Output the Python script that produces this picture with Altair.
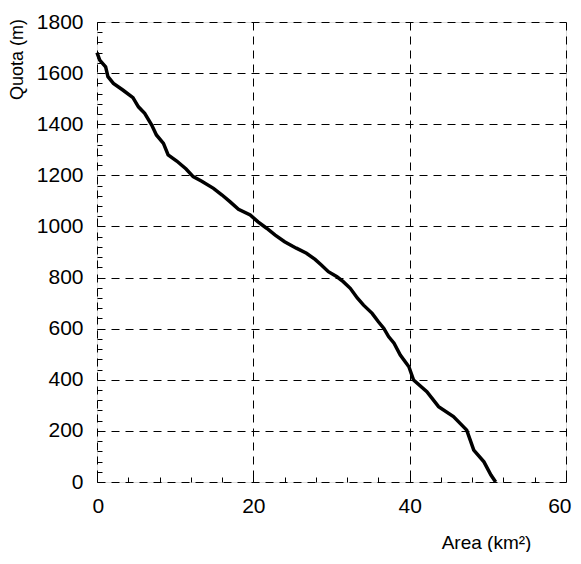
import altair as alt
import pandas as pd

area_km2 = [0.0, 0.35, 1.1, 1.4, 2.1, 3.3, 4.6, 5.3, 6.1, 7.0, 7.6, 8.5, 9.1, 10.2,
            11.4, 12.3, 13.4, 14.9, 16.0, 17.0, 18.1, 19.6, 20.6, 21.7, 22.8, 24.0,
            25.5, 26.8, 27.9, 28.7, 29.6, 30.7, 31.5, 32.4, 33.3, 34.1, 35.2, 36.0,
            36.7, 37.3, 38.0, 38.8, 39.9, 40.5, 42.2, 43.7, 45.6, 47.3, 48.2, 49.5,
            50.4, 51.0]
quota_m = [1680, 1651, 1625, 1586, 1560, 1534, 1504, 1468, 1443, 1397, 1358, 1325,
           1280, 1256, 1225, 1195, 1177, 1149, 1123, 1097, 1067, 1045, 1018, 993, 966,
           940, 915, 895, 871, 849, 823, 803, 784, 758, 720, 692, 660, 627, 601, 569,
           543, 497, 451, 399, 353, 295, 256, 203, 125, 79, 27, 0]

x_major = [0, 20, 40, 60]
y_major = [0, 200, 400, 600, 800, 1000, 1200, 1400, 1600, 1800]
x_minor = [0, 4, 8, 12, 16, 20, 24, 28, 32, 36, 40, 44, 48, 52, 56, 60]
y_minor = [0, 40, 80, 120, 160, 200, 240, 280, 320, 360, 400, 440, 480, 520, 560,
           600, 640, 680, 720, 760, 800, 840, 880, 920, 960, 1000, 1040, 1080, 1120,
           1160, 1200, 1240, 1280, 1320, 1360, 1400, 1440, 1480, 1520, 1560, 1600,
           1640, 1680, 1720, 1760, 1800]

df = pd.DataFrame({"area": area_km2, "quota": quota_m})

W, H = 469, 460
FONT = "Liberation Sans"

xscale = alt.Scale(domain=[0, 60], nice=False, zero=False)
yscale = alt.Scale(domain=[0, 1800], nice=False, zero=False)

main = alt.Chart(df).mark_line(color="black", strokeWidth=3.5).encode(
    x=alt.X("area:Q", scale=xscale,
            axis=alt.Axis(values=x_major, title="Area (km²)", ticks=False, domain=False,
                          grid=True, gridDash=[8, 6], gridColor="black", gridWidth=1,
                          gridOpacity=1, labelFontSize=21, labelPadding=13,
                          labelColor="black", labelFont=FONT, labelFlush=True,
                          labelFlushOffset=5,
                          titleFont=FONT, titleFontSize=19, titleFontWeight="normal",
                          titleColor="black", titleX=389, titleY=66,
                          titleAlign="center", titleBaseline="alphabetic",
                          format="d")),
    y=alt.Y("quota:Q", scale=yscale,
            axis=alt.Axis(values=y_major, title="Quota (m)", ticks=False, domain=False,
                          grid=True, gridDash=[8, 6], gridColor="black", gridWidth=1,
                          gridOpacity=1, labelFontSize=21, labelPadding=14,
                          labelColor="black", labelFont=FONT, labelFlush=False,
                          titleFont=FONT, titleFontSize=18, titleFontWeight="normal",
                          titleColor="black", titleAngle=-90, titleX=-75, titleY=37,
                          titleAlign="center", titleBaseline="alphabetic",
                          format="d")),
    order="area:Q",
)

ticks = alt.Chart(df).mark_point(opacity=0).encode(
    x=alt.X("area:Q", scale=xscale,
            axis=alt.Axis(orient="top", offset=-H, values=x_minor, labels=False,
                          title=None, domain=False, grid=False, ticks=True,
                          tickSize=5, tickColor="black", tickWidth=1)),
    y=alt.Y("quota:Q", scale=yscale,
            axis=alt.Axis(orient="right", offset=-W, values=y_minor, labels=False,
                          title=None, domain=False, grid=False, ticks=True,
                          tickSize=5, tickColor="black", tickWidth=1)),
)

chart = alt.layer(main, ticks).resolve_axis(x="independent", y="independent").properties(
    width=W, height=H,
    autosize=alt.AutoSizeParams(type="none"),
    padding={"left": 89, "top": 14, "right": 7, "bottom": 70},
).configure_view(stroke="black", strokeWidth=2).configure(background="white")

chart.save("out.html", embed_options={"renderer": "svg", "actions": False})
